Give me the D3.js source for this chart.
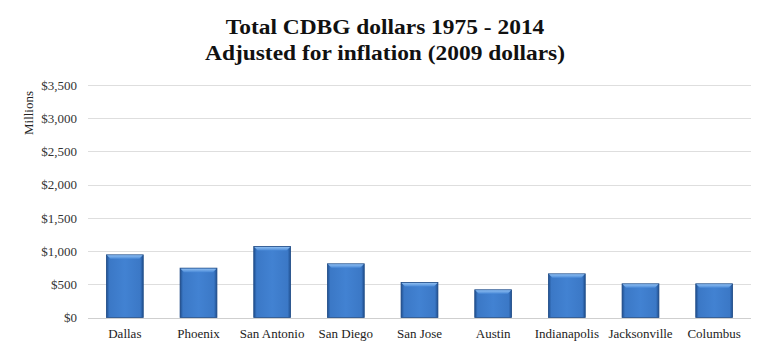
<!DOCTYPE html>
<html><head><meta charset="utf-8">
<script src="https://cdn.jsdelivr.net/npm/d3@7/dist/d3.min.js"></script>
<style>body{margin:0;background:#fff}svg{display:block}</style>
</head><body><svg id="c" width="768" height="351"></svg>
<script>
const categories = ["Dallas","Phoenix","San Antonio","San Diego","San Jose","Austin","Indianapolis","Jacksonville","Columbus"];
const values = [943, 743, 1068, 808, 526, 417, 657, 507, 507];
const yTicks = [0,500,1000,1500,2000,2500,3000,3500];
const titleLines = ["Total CDBG dollars 1975 - 2014","Adjusted for inflation (2009 dollars)"];
const yLabel = "Millions";

const svg = d3.select("#c");
const m = {l:88, r:17, t:85, b:33.5};
const W = 768, H = 351;
const x = d3.scaleBand().domain(categories).range([m.l, W-m.r]).paddingInner(0.5).paddingOuter(0.25);
const y = d3.scaleLinear().domain([0,3500]).range([H-m.b, m.t]);
const FONT = "'Liberation Serif', Tinos, 'Times New Roman', 'DejaVu Serif', serif";

const defs = svg.append("defs");
const g1 = defs.append("linearGradient").attr("id","hg").attr("x1",0).attr("x2",1).attr("y1",0).attr("y2",0);
[[0,"#1f4f8f"],[0.08,"#3b78c6"],[0.5,"#4282d2"],[0.92,"#3b78c6"],[1,"#1f4f8f"]].forEach(([o,c])=>g1.append("stop").attr("offset",o).attr("stop-color",c));
const g2 = defs.append("linearGradient").attr("id","tg").attr("x1",0).attr("x2",0).attr("y1",0).attr("y2",1);
[[0,"#8cbcf0"],[1,"#4a8ad8"]].forEach(([o,c])=>g2.append("stop").attr("offset",o).attr("stop-color",c));

svg.append("g").selectAll("line").data(yTicks).join("line")
  .attr("x1",m.l).attr("x2",W-m.r).attr("y1",d=>Math.round(y(d))+0.5).attr("y2",d=>Math.round(y(d))+0.5)
  .attr("stroke",d=>d===0?"#cfcfcf":"#dedede").attr("stroke-width",1);

const yAxis = d3.axisLeft(y).tickValues(yTicks).tickSize(0).tickPadding(0)
  .tickFormat(d=>"$"+d3.format(",")(d));
const ya = svg.append("g").attr("transform",`translate(${m.l-11},0)`).call(yAxis);
ya.select(".domain").remove();
ya.attr("font-family",null).attr("font-size",null);
ya.selectAll("text").style("font-family",FONT).style("font-size","13px").attr("fill","#333");

const xAxis = d3.axisBottom(x).tickSize(0).tickPadding(0);
const xa = svg.append("g").attr("transform",`translate(0,${H-m.b+11})`).call(xAxis);
xa.select(".domain").remove();
xa.attr("font-family",null).attr("font-size",null);
xa.selectAll("text").style("font-family",FONT).style("font-size","13px").attr("fill","#222");

const bars = svg.append("g").selectAll("g").data(categories.map((c,i)=>({c,v:values[i]}))).join("g");
bars.append("rect")
  .attr("x",d=>x(d.c)).attr("width",x.bandwidth())
  .attr("y",d=>y(d.v)).attr("height",d=>y(0)-y(d.v))
  .attr("fill","url(#hg)").attr("stroke","#1d4a85").attr("stroke-width",0.8);
bars.append("path")
  .attr("d",d=>{const x0=x(d.c), x1=x0+x.bandwidth(), t=y(d.v); return `M${x0+0.5},${t+0.5}L${x1-0.5},${t+0.5}L${x1-4},${t+4}L${x0+4},${t+4}Z`;})
  .attr("fill","url(#tg)");

svg.append("text").attr("transform","translate(33,113) rotate(-90)").attr("text-anchor","middle")
  .style("font-family",FONT).style("font-size","13px").attr("fill","#222").text(yLabel);

svg.append("g").selectAll("text").data(titleLines).join("text")
  .attr("transform",(d,i)=>`translate(385,${34+i*26}) scale(1.065,1)`).attr("text-anchor","middle")
  .style("font-family",FONT).style("font-weight","bold").style("font-size","22px").attr("fill","#111")
  .text(d=>d);
</script></body></html>
